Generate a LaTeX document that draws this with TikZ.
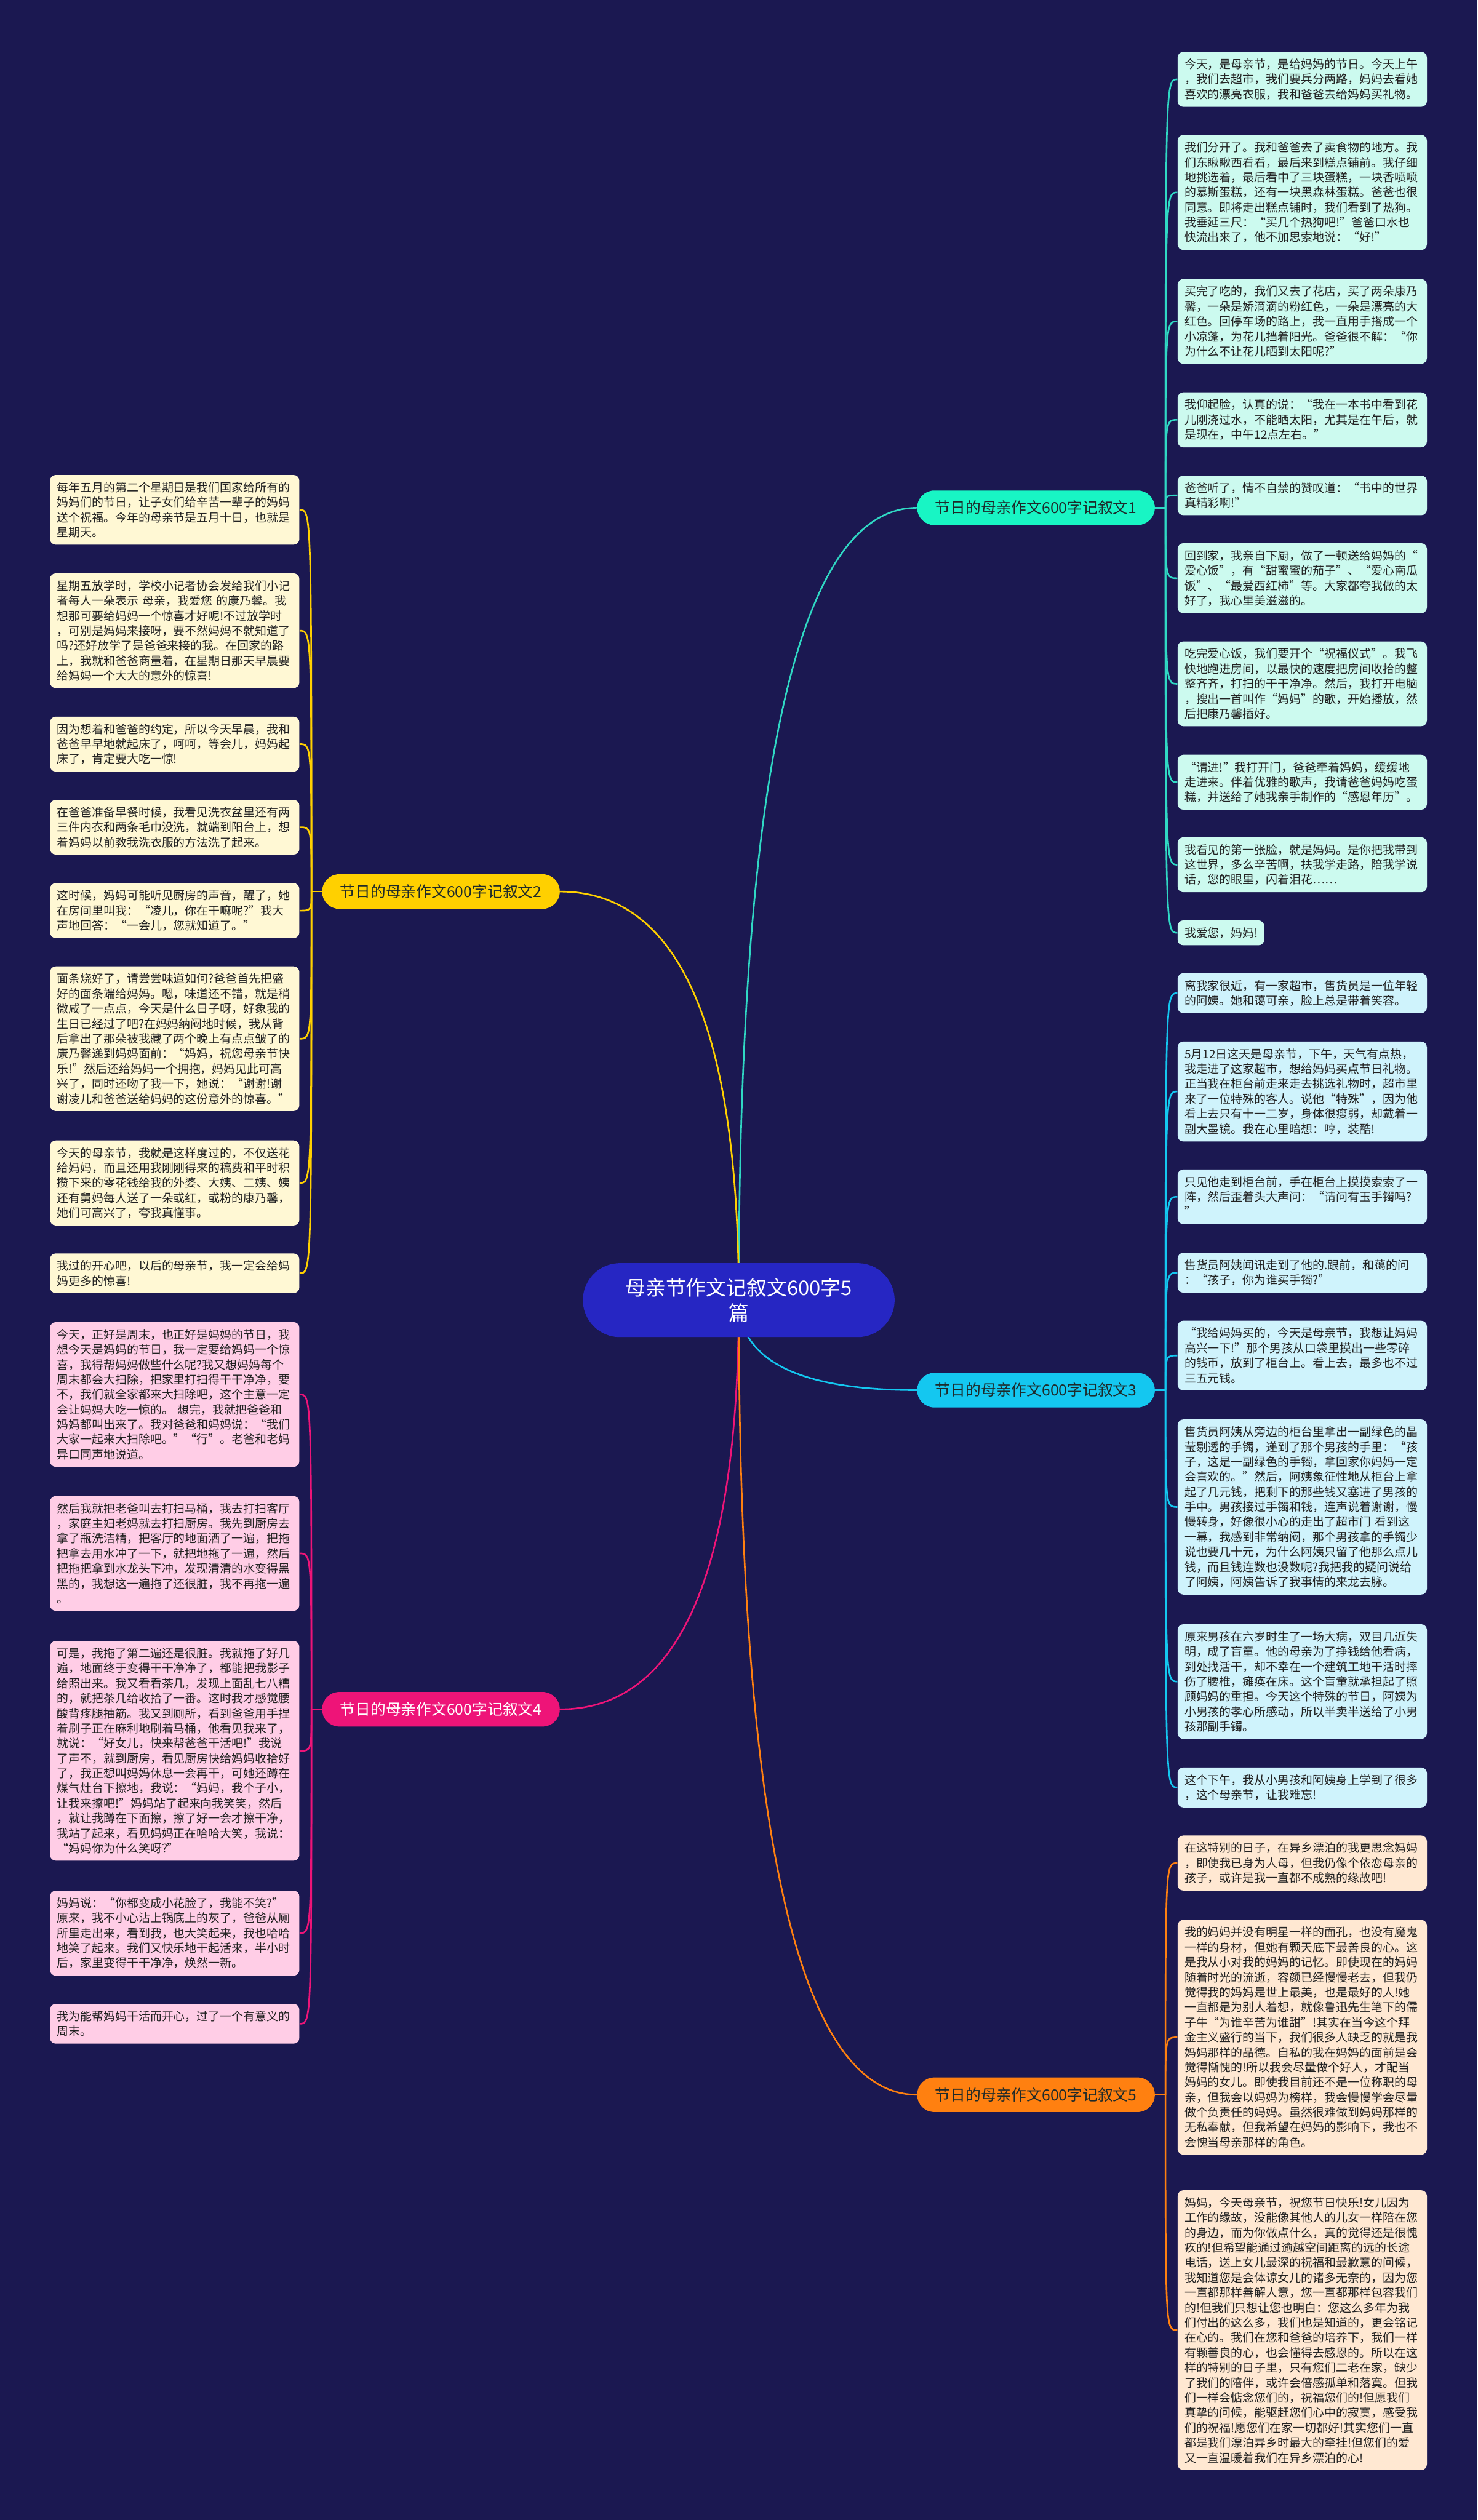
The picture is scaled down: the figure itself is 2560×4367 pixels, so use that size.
\documentclass[tikz,border=0pt]{standalone}
\usepackage{fontspec}
\newfontfamily\cjk{Noto Sans CJK SC}
\usetikzlibrary{calc}
\definecolor{pagebg}{HTML}{1B1851}
\definecolor{rootblue}{HTML}{2626C3}
\definecolor{tealfill}{HTML}{18F5C4}
\definecolor{tealone}{HTML}{30D8C4}
\definecolor{yellowtwo}{HTML}{FFD000}
\definecolor{cyanthree}{HTML}{14C7F0}
\definecolor{pinkfour}{HTML}{EE1478}
\definecolor{orangefive}{HTML}{FF8010}
\definecolor{leafone}{HTML}{CCFAEF}
\definecolor{leaftwo}{HTML}{FFF8D4}
\definecolor{leafthree}{HTML}{CFF3FC}
\definecolor{leaffour}{HTML}{FFCDE6}
\definecolor{leaffive}{HTML}{FFE8D2}
\definecolor{leafink}{HTML}{222222}
\definecolor{essayink}{HTML}{1E2A2A}
\pgfdeclarelayer{wires}
\pgfsetlayers{wires,main}

\begin{document}
\begin{tikzpicture}[x=0.5pt, y=-0.5pt,
    leaf/.style={rounded corners=5pt, text width=204pt, inner xsep=6pt, inner ysep=6pt, align=left, text=leafink,
      font=\cjk\fontsize{10.1pt}{13pt}\selectfont,
      execute at begin node=\vphantom{国}, execute at end node=\vphantom{国}},
    essay/.style={rounded corners=15pt, minimum width=206pt, minimum height=30pt, inner sep=0pt,
      font=\cjk\fontsize{13.2pt}{15pt}\selectfont},
    wire/.style={line width=1.4pt}]
    \useasboundingbox (0,0) rectangle (2560,4367);
    \begin{pgfonlayer}{wires}
      \fill[pagebg] (0,0) rectangle (2560,4367);
    \end{pgfonlayer}

    % Root and essay nodes
    \node[fill=rootblue, text=white, rounded corners=32pt, minimum width=270pt, minimum height=64pt, align=center,
      font=\cjk\fontsize{17.5pt}{22pt}\selectfont] (root) at (1280,2253) {母亲节作文记叙文600字5\\篇};
    \node[essay, fill=tealfill, text=essayink] (essay1) at (1795,880) {节日的母亲作文600字记叙文1};
    \node[essay, fill=yellowtwo, text=essayink] (essay2) at (764,1545) {节日的母亲作文600字记叙文2};
    \node[essay, fill=cyanthree, text=essayink] (essay3) at (1795,2409) {节日的母亲作文600字记叙文3};
    \node[essay, fill=pinkfour, text=white] (essay4) at (764,2962) {节日的母亲作文600字记叙文4};
    \node[essay, fill=orangefive, text=essayink] (essay5) at (1795,3630) {节日的母亲作文600字记叙文5};

    % Essay 1
    \node[leaf, fill=leafone, anchor=west] (e1a) at (2040,137.5) {今天，是母亲节，是给妈妈的节日。今天上午\\，我们去超市，我们要兵分两路，妈妈去看她\\喜欢的漂亮衣服，我和爸爸去给妈妈买礼物。};
    \node[leaf, fill=leafone, anchor=west] (e1b) at (2040,333.5) {我们分开了。我和爸爸去了卖食物的地方。我\\们东瞅瞅西看看，最后来到糕点铺前。我仔细\\地挑选着，最后看中了三块蛋糕，一块香喷喷\\的慕斯蛋糕，还有一块黑森林蛋糕。爸爸也很\\同意。即将走出糕点铺时，我们看到了热狗。\\我垂延三尺：“买几个热狗吧!”爸爸口水也\\快流出来了，他不加思索地说：“好!”};
    \node[leaf, fill=leafone, anchor=west] (e1c) at (2040,557) {买完了吃的，我们又去了花店，买了两朵康乃\\馨，一朵是娇滴滴的粉红色，一朵是漂亮的大\\红色。回停车场的路上，我一直用手搭成一个\\小凉蓬，为花儿挡着阳光。爸爸很不解：“你\\为什么不让花儿晒到太阳呢?”};
    \node[leaf, fill=leafone, anchor=west] (e1d) at (2040,727.5) {我仰起脸，认真的说：“我在一本书中看到花\\儿刚浇过水，不能晒太阳，尤其是在午后，就\\是现在，中午12点左右。”};
    \node[leaf, fill=leafone, anchor=west] (e1e) at (2040,858.5) {爸爸听了，情不自禁的赞叹道：“书中的世界\\真精彩啊!”};
    \node[leaf, fill=leafone, anchor=west] (e1f) at (2040,1002) {回到家，我亲自下厨，做了一顿送给妈妈的“\\爱心饭”，有“甜蜜蜜的茄子”、“爱心南瓜\\饭”、“最爱西红柿”等。大家都夸我做的太\\好了，我心里美滋滋的。};
    \node[leaf, fill=leafone, anchor=west] (e1g) at (2040,1185) {吃完爱心饭，我们要开个“祝福仪式”。我飞\\快地跑进房间，以最快的速度把房间收拾的整\\整齐齐，打扫的干干净净。然后，我打开电脑\\，搜出一首叫作“妈妈”的歌，开始播放，然\\后把康乃馨插好。};
    \node[leaf, fill=leafone, anchor=west] (e1h) at (2040,1355.5) {“请进!”我打开门，爸爸牵着妈妈，缓缓地\\走进来。伴着优雅的歌声，我请爸爸妈妈吃蛋\\糕，并送给了她我亲手制作的“感恩年历”。};
    \node[leaf, fill=leafone, anchor=west] (e1i) at (2040,1498.5) {我看见的第一张脸，就是妈妈。是你把我带到\\这世界，多么辛苦啊，扶我学走路，陪我学说\\话，您的眼里，闪着泪花……};
    \node[leaf, fill=leafone, anchor=west, text width=63pt] (e1j) at (2040,1616.5) {我爱您，妈妈!};

    % Essay 2
    \node[leaf, fill=leaftwo, anchor=east] (e2a) at (519,883.5) {每年五月的第二个星期日是我们国家给所有的\\妈妈们的节日，让子女们给辛苦一辈子的妈妈\\送个祝福。今年的母亲节是五月十日，也就是\\星期天。};
    \node[leaf, fill=leaftwo, anchor=east] (e2b) at (519,1093) {星期五放学时，学校小记者协会发给我们小记\\者每人一朵表示 母亲，我爱您 的康乃馨。我\\想那可要给妈妈一个惊喜才好呢!不过放学时\\，可别是妈妈来接呀，要不然妈妈不就知道了\\吗?还好放学了是爸爸来接的我。在回家的路\\上，我就和爸爸商量着，在星期日那天早晨要\\给妈妈一个大大的意外的惊喜!};
    \node[leaf, fill=leaftwo, anchor=east] (e2c) at (519,1289.5) {因为想着和爸爸的约定，所以今天早晨，我和\\爸爸早早地就起床了，呵呵，等会儿，妈妈起\\床了，肯定要大吃一惊!};
    \node[leaf, fill=leaftwo, anchor=east] (e2d) at (519,1433.5) {在爸爸准备早餐时候，我看见洗衣盆里还有两\\三件内衣和两条毛巾没洗，就端到阳台上，想\\着妈妈以前教我洗衣服的方法洗了起来。};
    \node[leaf, fill=leaftwo, anchor=east] (e2e) at (519,1578) {这时候，妈妈可能听见厨房的声音，醒了，她\\在房间里叫我：“凌儿，你在干嘛呢?”我大\\声地回答：“一会儿，您就知道了。”};
    \node[leaf, fill=leaftwo, anchor=east] (e2f) at (519,1800) {面条烧好了，请尝尝味道如何?爸爸首先把盛\\好的面条端给妈妈。嗯，味道还不错，就是稍\\微咸了一点点，今天是什么日子呀，好象我的\\生日已经过了吧?在妈妈纳闷地时候，我从背\\后拿出了那朵被我藏了两个晚上有点点皱了的\\康乃馨递到妈妈面前：“妈妈，祝您母亲节快\\乐!”然后还给妈妈一个拥抱，妈妈见此可高\\兴了，同时还吻了我一下，她说：“谢谢!谢\\谢凌儿和爸爸送给妈妈的这份意外的惊喜。”};
    \node[leaf, fill=leaftwo, anchor=east] (e2g) at (519,2050) {今天的母亲节，我就是这样度过的，不仅送花\\给妈妈，而且还用我刚刚得来的稿费和平时积\\攒下来的零花钱给我的外婆、大姨、二姨、姨\\还有舅妈每人送了一朵或红，或粉的康乃馨，\\她们可高兴了，夸我真懂事。};
    \node[leaf, fill=leaftwo, anchor=east] (e2h) at (519,2206.5) {我过的开心吧，以后的母亲节，我一定会给妈\\妈更多的惊喜!};

    % Essay 3
    \node[leaf, fill=leafthree, anchor=west] (e3a) at (2040,1721) {离我家很近，有一家超市，售货员是一位年轻\\的阿姨。她和蔼可亲，脸上总是带着笑容。};
    \node[leaf, fill=leafthree, anchor=west] (e3b) at (2040,1891.5) {5月12日这天是母亲节，下午，天气有点热，\\我走进了这家超市，想给妈妈买点节日礼物。\\正当我在柜台前走来走去挑选礼物时，超市里\\来了一位特殊的客人。说他“特殊”，因为他\\看上去只有十一二岁，身体很瘦弱，却戴着一\\副大墨镜。我在心里暗想：哼，装酷!};
    \node[leaf, fill=leafthree, anchor=west] (e3c) at (2040,2074) {只见他走到柜台前，手在柜台上摸摸索索了一\\阵，然后歪着头大声问：“请问有玉手镯吗?\\”};
    \node[leaf, fill=leafthree, anchor=west] (e3d) at (2040,2205.5) {售货员阿姨闻讯走到了他的.跟前，和蔼的问\\：“孩子，你为谁买手镯?”};
    \node[leaf, fill=leafthree, anchor=west] (e3e) at (2040,2349) {“我给妈妈买的，今天是母亲节，我想让妈妈\\高兴一下!”那个男孩从口袋里摸出一些零碎\\的钱币，放到了柜台上。看上去，最多也不过\\三五元钱。};
    \node[leaf, fill=leafthree, anchor=west] (e3f) at (2040,2611.5) {售货员阿姨从旁边的柜台里拿出一副绿色的晶\\莹剔透的手镯，递到了那个男孩的手里：“孩\\子，这是一副绿色的手镯，拿回家你妈妈一定\\会喜欢的。”然后，阿姨象征性地从柜台上拿\\起了几元钱，把剩下的那些钱又塞进了男孩的\\手中。男孩接过手镯和钱，连声说着谢谢，慢\\慢转身，好像很小心的走出了超市门 看到这\\一幕，我感到非常纳闷，那个男孩拿的手镯少\\说也要几十元，为什么阿姨只留了他那么点儿\\钱，而且钱连数也没数呢?我把我的疑问说给\\了阿姨，阿姨告诉了我事情的来龙去脉。};
    \node[leaf, fill=leafthree, anchor=west] (e3g) at (2040,2914) {原来男孩在六岁时生了一场大病，双目几近失\\明，成了盲童。他的母亲为了挣钱给他看病，\\到处找活干，却不幸在一个建筑工地干活时摔\\伤了腰椎，瘫痪在床。这个盲童就承担起了照\\顾妈妈的重担。今天这个特殊的节日，阿姨为\\小男孩的孝心所感动，所以半卖半送给了小男\\孩那副手镯。};
    \node[leaf, fill=leafthree, anchor=west] (e3h) at (2040,3097.5) {这个下午，我从小男孩和阿姨身上学到了很多\\，这个母亲节，让我难忘!};

    % Essay 4
    \node[leaf, fill=leaffour, anchor=east] (e4a) at (519,2416.5) {今天，正好是周末，也正好是妈妈的节日，我\\想今天是妈妈的节日，我一定要给妈妈一个惊\\喜，我得帮妈妈做些什么呢?我又想妈妈每个\\周末都会大扫除，把家里打扫得干干净净，要\\不，我们就全家都来大扫除吧，这个主意一定\\会让妈妈大吃一惊的。 想完，我就把爸爸和\\妈妈都叫出来了。我对爸爸和妈妈说：“我们\\大家一起来大扫除吧。”“行”。老爸和老妈\\异口同声地说道。};
    \node[leaf, fill=leaffour, anchor=east] (e4b) at (519,2692) {然后我就把老爸叫去打扫马桶，我去打扫客厅\\，家庭主妇老妈就去打扫厨房。我先到厨房去\\拿了瓶洗洁精，把客厅的地面洒了一遍，把拖\\把拿去用水冲了一下，就把地拖了一遍，然后\\把拖把拿到水龙头下冲，发现清清的水变得黑\\黑的，我想这一遍拖了还很脏，我不再拖一遍\\。};
    \node[leaf, fill=leaffour, anchor=east] (e4c) at (519,3034) {可是，我拖了第二遍还是很脏。我就拖了好几\\遍，地面终于变得干干净净了，都能把我影子\\给照出来。我又看看茶几，发现上面乱七八糟\\的，就把茶几给收拾了一番。这时我才感觉腰\\酸背疼腿抽筋。我又到厕所，看到爸爸用手捏\\着刷子正在麻利地刷着马桶，他看见我来了，\\就说：“好女儿，快来帮爸爸干活吧!”我说\\了声不，就到厨房，看见厨房快给妈妈收拾好\\了，我正想叫妈妈休息一会再干，可她还蹲在\\煤气灶台下擦地，我说：“妈妈，我个子小，\\让我来擦吧!”妈妈站了起来向我笑笑，然后\\，就让我蹲在下面擦，擦了好一会才擦干净，\\我站了起来，看见妈妈正在哈哈大笑，我说：\\“妈妈你为什么笑呀?”};
    \node[leaf, fill=leaffour, anchor=east] (e4d) at (519,3350) {妈妈说：“你都变成小花脸了，我能不笑?”\\原来，我不小心沾上锅底上的灰了，爸爸从厕\\所里走出来，看到我，也大笑起来，我也哈哈\\地笑了起来。我们又快乐地干起活来，半小时\\后，家里变得干干净净，焕然一新。};
    \node[leaf, fill=leaffour, anchor=east] (e4e) at (519,3507) {我为能帮妈妈干活而开心，过了一个有意义的\\周末。};

    % Essay 5
    \node[leaf, fill=leaffive, anchor=west] (e5a) at (2040,3228.5) {在这特别的日子，在异乡漂泊的我更思念妈妈\\，即使我已身为人母，但我仍像个依恋母亲的\\孩子，或许是我一直都不成熟的缘故吧!};
    \node[leaf, fill=leaffive, anchor=west] (e5b) at (2040,3530.5) {我的妈妈并没有明星一样的面孔，也没有魔鬼\\一样的身材，但她有颗天底下最善良的心。这\\是我从小对我的妈妈的记忆。即使现在的妈妈\\随着时光的流逝，容颜已经慢慢老去，但我仍\\觉得我的妈妈是世上最美，也是最好的人!她\\一直都是为别人着想，就像鲁迅先生笔下的儒\\子牛“为谁辛苦为谁甜”!其实在当今这个拜\\金主义盛行的当下，我们很多人缺乏的就是我\\妈妈那样的品德。自私的我在妈妈的面前是会\\觉得惭愧的!所以我会尽量做个好人，才配当\\妈妈的女儿。即使我目前还不是一位称职的母\\亲，但我会以妈妈为榜样，我会慢慢学会尽量\\做个负责任的妈妈。虽然很难做到妈妈那样的\\无私奉献，但我希望在妈妈的影响下，我也不\\会愧当母亲那样的角色。};
    \node[leaf, fill=leaffive, anchor=west] (e5c) at (2040,4038) {妈妈，今天母亲节，祝您节日快乐!女儿因为\\工作的缘故，没能像其他人的儿女一样陪在您\\的身边，而为你做点什么，真的觉得还是很愧\\疚的!但希望能通过逾越空间距离的远的长途\\电话，送上女儿最深的祝福和最歉意的问候，\\我知道您是会体谅女儿的诸多无奈的，因为您\\一直都那样善解人意，您一直都那样包容我们\\的!但我们只想让您也明白：您这么多年为我\\们付出的这么多，我们也是知道的，更会铭记\\在心的。我们在您和爸爸的培养下，我们一样\\有颗善良的心，也会懂得去感恩的。所以在这\\样的特别的日子里，只有您们二老在家，缺少\\了我们的陪伴，或许会倍感孤单和落寞。但我\\们一样会惦念您们的，祝福您们的!但愿我们\\真挚的问候，能驱赶您们心中的寂寞，感受我\\们的祝福!愿您们在家一切都好!其实您们一直\\都是我们漂泊异乡时最大的牵挂!但您们的爱\\又一直温暖着我们在异乡漂泊的心!};

    \begin{pgfonlayer}{wires}
      % Root to essays
      \foreach \n/\c/\s in {1/tealone/west, 2/yellowtwo/east, 3/cyanthree/west, 4/pinkfour/east, 5/orangefive/west}
        \draw[wire, \c] (root.center) .. controls ($(root.center)!2/3!(root.center |- essay\n.\s)$)
          and ($(essay\n.\s)!2/3!(root.center |- essay\n.\s)$) .. (essay\n.\s);

      % Essays to paragraphs
      \coordinate (hub1) at ($(essay1.east)+(18,0)$);
      \coordinate (hub2) at ($(essay2.west)+(-18,0)$);
      \coordinate (hub3) at ($(essay3.east)+(18,0)$);
      \coordinate (hub4) at ($(essay4.west)+(-18,0)$);
      \coordinate (hub5) at ($(essay5.east)+(18,0)$);
      \draw[wire, tealone] (essay1.east) -- (hub1);
      \draw[wire, yellowtwo] (essay2.west) -- (hub2);
      \draw[wire, cyanthree] (essay3.east) -- (hub3);
      \draw[wire, pinkfour] (essay4.west) -- (hub4);
      \draw[wire, orangefive] (essay5.east) -- (hub5);
      \foreach \k in {a,...,j}
        \draw[wire, tealone] (hub1) .. controls (hub1 |- e1\k.west) .. (e1\k.west);
      \foreach \k in {a,...,h}
        \draw[wire, yellowtwo] (hub2) .. controls (hub2 |- e2\k.east) .. (e2\k.east);
      \foreach \k in {a,...,h}
        \draw[wire, cyanthree] (hub3) .. controls (hub3 |- e3\k.west) .. (e3\k.west);
      \foreach \k in {a,...,e}
        \draw[wire, pinkfour] (hub4) .. controls (hub4 |- e4\k.east) .. (e4\k.east);
      \foreach \k in {a,...,c}
        \draw[wire, orangefive] (hub5) .. controls (hub5 |- e5\k.west) .. (e5\k.west);
    \end{pgfonlayer}
  \end{tikzpicture}
\end{document}
